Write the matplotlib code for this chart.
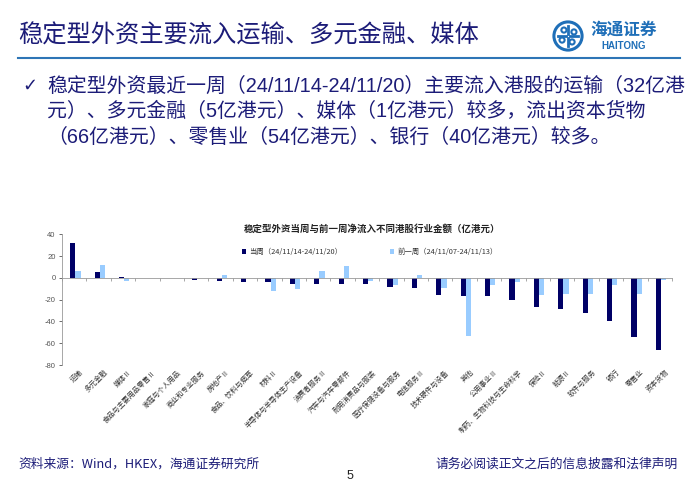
import numpy as np
import matplotlib
matplotlib.use("Agg")
import matplotlib.pyplot as plt
from matplotlib.patches import Circle
from matplotlib.transforms import blended_transform_factory

plt.rcParams['font.family'] = ['Noto Sans CJK SC', 'DejaVu Sans']

# data (亿港元)
industries = ["运输", "多元金融", "媒体Ⅱ", "食品与主要用品零售Ⅱ", "家庭与个人用品",
              "商业和专业服务", "房地产Ⅱ", "食品、饮料与烟草", "材料Ⅱ",
              "半导体与半导体生产设备", "消费者服务Ⅱ", "汽车与汽车零部件",
              "耐用消费品与服装", "医疗保健设备与服务", "电信服务Ⅱ", "技术硬件与设备",
              "其他", "公用事业Ⅱ", "制药、生物科技与生命科学", "保险Ⅱ", "能源Ⅱ",
              "软件与服务", "银行", "零售业", "资本货物"]
this_week = [32, 5, 1, 0.2, 0, -1.5, -2.5, -3.5, -4, -5.5, -5.5, -5.5, -6, -8, -9, -16,
             -17, -17, -20, -27, -29, -32, -40, -54, -66]
last_week = [6, 12, -2.5, -0.3, -0.5, 0, 2.5, 0, -12, -10.5, 6, 10.5, -3, -7, 3, -9.5,
             -53, -7, -4, -16, -15, -15, -7, -15, -2]
label_this = "当周（24/11/14-24/11/20）"
label_last = "前一周（24/11/07-24/11/13）"
yticks = [40, 20, 0, -20, -40, -60, -80]

W, H = 700, 484
fig = plt.figure(figsize=(W / 100, H / 100), dpi=100)


def fy(y):
    return 1 - y / H


navy_text = "#1c1c78"
mixed = ["Liberation Sans", "Noto Sans CJK SC", "DejaVu Sans"]

# slide header
fig.text(18 / W, fy(36), "稳定型外资主要流入运输、多元金融、媒体", fontsize=17.5,
         color=navy_text, va="center", ha="left")
fig.add_artist(plt.Line2D([18 / W, 680 / W], [fy(58), fy(58)], color="#2e75b6", lw=1.5))

# logo
logo_ax = fig.add_axes([552 / W, fy(52), 32 / W, 32 / H])
logo_ax.set_xlim(-1, 1)
logo_ax.set_ylim(-1, 1)
logo_ax.set_aspect("equal")
logo_ax.axis("off")
logo_ax.add_patch(Circle((0, 0), 0.88, fill=False, ec="#1f6fb8", lw=2.2))
for a in [0, 90, 180, 270]:
    t = np.radians(a)
    logo_ax.plot([0.15 * np.cos(t), 0.62 * np.cos(t)], [0.15 * np.sin(t), 0.62 * np.sin(t)],
                 color="#1f6fb8", lw=2)
    logo_ax.add_patch(Circle((0.45 * np.cos(t + 0.6), 0.45 * np.sin(t + 0.6)), 0.16,
                             fill=False, ec="#1f6fb8", lw=1.5))
fig.text(624 / W, fy(30), "海通证券", fontsize=12, color="#1f6fb8", ha="center", va="center",
         fontweight="bold")
fig.text(624 / W, fy(46), "HAITONG", fontsize=7, color="#1f6fb8", ha="center", va="center",
         fontweight="bold", family=["Liberation Sans", "DejaVu Sans"])

# bullet text
fig.text(22 / W, fy(86), "✓", fontsize=13, color=navy_text, va="center", family=["DejaVu Sans"])
lines = ["稳定型外资最近一周（24/11/14-24/11/20）主要流入港股的运输（32亿港",
         "元）、多元金融（5亿港元）、媒体（1亿港元）较多，流出资本货物",
         "（66亿港元）、零售业（54亿港元）、银行（40亿港元）较多。"]
for i, s in enumerate(lines):
    fig.text(47 / W, fy(86 + 25.5 * i), s, fontsize=14.3, color=navy_text, va="center",
             family=mixed)

# chart
ax = fig.add_axes([62 / W, fy(365), 610 / W, (365 - 234.3) / H])
x = np.arange(len(industries))
bw = 0.21
ax.bar(x - bw / 2 + 0.05, this_week, bw, color="#000066", label=label_this, zorder=2)
ax.bar(x + bw / 2 + 0.05, last_week, bw, color="#99ccff", label=label_last, zorder=2)
ax.set_xlim(-0.5, len(industries) - 0.5)
ax.set_ylim(-80, 40)
ax.set_yticks(yticks)
ax.set_yticklabels([str(v) for v in yticks], family=["Liberation Sans", "DejaVu Sans"])
ax.tick_params(axis="y", labelsize=5.5, colors="#555555", length=2.5, width=0.6, pad=2)
for s in ["top", "right"]:
    ax.spines[s].set_visible(False)
ax.spines["left"].set_color("#999999")
ax.spines["left"].set_linewidth(0.6)
ax.spines["bottom"].set_position(("data", 0))
ax.spines["bottom"].set_color("#999999")
ax.spines["bottom"].set_linewidth(0.6)
ax.set_xticks(np.arange(len(industries) + 1) - 0.5)
ax.set_xticklabels([])
ax.tick_params(axis="x", length=2, width=0.6, colors="#999999", direction="out")

trans = blended_transform_factory(ax.transData, ax.transAxes)
for i, name in enumerate(industries):
    ax.text(i + 0.2, -0.025, name, transform=trans, rotation=45, ha="right", va="top",
            rotation_mode="anchor", fontsize=5.1, color="#333333")

fig.text(372 / W, fy(229), "稳定型外资当周与前一周净流入不同港股行业金额（亿港元）", fontsize=6.8,
         ha="center", va="center", color="#222222", fontweight="bold")
ax.legend(loc="center left", bbox_to_anchor=(235 / W, fy(252)), bbox_transform=fig.transFigure,
          ncol=2, frameon=False, fontsize=5.3, handlelength=0.6, handleheight=0.6,
          handletextpad=0.4, columnspacing=6.5, labelcolor="#333333")

# footer
fig.text(18 / W, fy(464), "资料来源：Wind，HKEX，海通证券研究所", fontsize=9.2, color=navy_text,
         va="center")
fig.text(678 / W, fy(464), "请务必阅读正文之后的信息披露和法律声明", fontsize=9.2, color=navy_text,
         va="center", ha="right")
fig.text(350 / W, fy(476), "5", fontsize=9, color="#222222", ha="center", va="center",
         family=["Liberation Sans", "DejaVu Sans"])

fig.savefig("out.png", dpi=100)
